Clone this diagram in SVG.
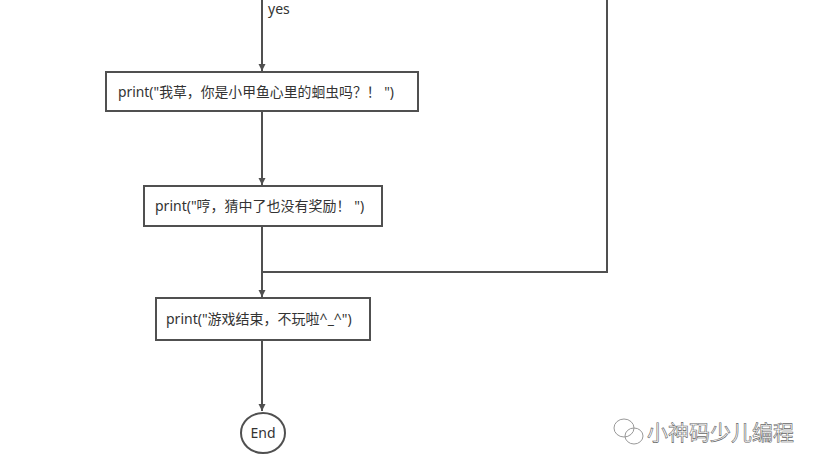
<svg xmlns="http://www.w3.org/2000/svg" width="816" height="467" viewBox="0 0 816 467">
<style>
.box{fill:#fff;stroke:#505050;stroke-width:2}
.ln{fill:none;stroke:#505050;stroke-width:2}
.t{font-family:"Noto Sans","Noto Sans CJK SC",sans-serif;font-size:14px;fill:#333}
.wm{font-family:"Noto Sans CJK SC",sans-serif;font-size:21px;fill:#fff;stroke:#666;stroke-width:0.6}
</style>
<defs>
<marker id="ah" markerWidth="8" markerHeight="8" refX="7" refY="4" orient="auto" markerUnits="userSpaceOnUse">
<path d="M0,0.5 L7,4 L0,7.5 Z" fill="#505050"/>
</marker>
</defs>
<rect width="816" height="467" fill="#fff"/>
<g id="connectors">
<path class="ln" d="M262,0 V71" marker-end="url(#ah)"/>
<path class="ln" d="M262,111 V185" marker-end="url(#ah)"/>
<path class="ln" d="M262,226 V297" marker-end="url(#ah)"/>
<path class="ln" d="M607,0 V272 H262"/>
<path class="ln" d="M262,340 V411" marker-end="url(#ah)"/>
<text class="t" x="268" y="14">yes</text>
</g>
<g id="n1">
<rect class="box" x="106" y="72" width="312" height="39"/>
<text class="t" x="118" y="97" textLength="276" lengthAdjust="spacingAndGlyphs">print("我草，你是小甲鱼心里的蛔虫吗？！ ")</text>
</g>
<g id="n2">
<rect class="box" x="144" y="186" width="238" height="40"/>
<text class="t" x="155" y="211">print("哼，猜中了也没有奖励！ ")</text>
</g>
<g id="n3">
<rect class="box" x="156" y="298" width="214" height="42"/>
<text class="t" x="166" y="324">print("游戏结束，不玩啦^_^")</text>
</g>
<g id="end">
<ellipse class="box" cx="263" cy="433" rx="22" ry="20"/>
<text class="t" x="263" y="438" text-anchor="middle">End</text>
</g>
<g id="watermark">
<g fill="none" stroke="#999" stroke-width="1">
<ellipse cx="624" cy="428" rx="10" ry="9"/>
<ellipse cx="634" cy="436" rx="9" ry="8"/>
</g>
<text class="wm" x="647" y="440">小神码少儿编程</text>
</g>
</svg>
